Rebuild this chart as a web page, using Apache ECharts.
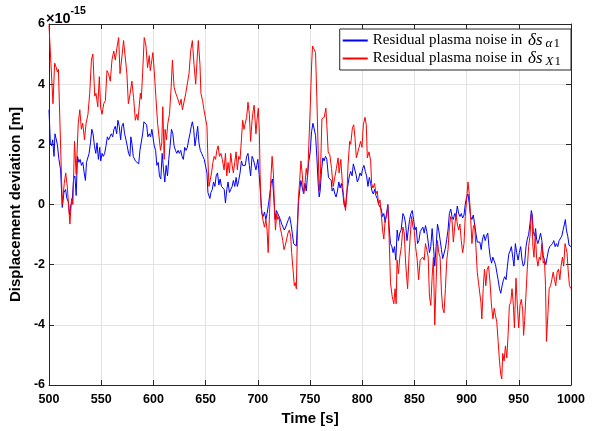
<!DOCTYPE html>
<html>
<head>
<meta charset="utf-8">
<script src="https://cdn.jsdelivr.net/npm/echarts@6/dist/echarts.min.js"></script>
<style>
html,body{margin:0;padding:0;background:#fff;}
#chart{width:597px;height:431px;}
</style>
</head>
<body>
<div id="chart"></div>
<script>
// Values in units of 1e-15 m, [time (s), displacement deviation]
const bluePoints = [
[500,3.15],[501.3,2.05],[502.5,1.95],[503.5,2.15],[504.8,1.6],[505.7,2.35],[507,2.3],[508,2.0],[509.5,1.5],[511.1,1.15],
[512.7,-0.1],[514.3,0.4],[515.9,0.5],[517.1,0.2],[518.4,0.1],[519.7,-0.35],[521,0],[522.2,0.1],[523.5,0.85],[524.8,0.95],
[526,0.3],[527.3,1.6],[528.6,1.4],[529.8,1.5],[531.1,1.3],[532.4,1.4],[533.7,1.05],[534.9,0.8],[535.9,1.4],[537.1,1.35],
[538.4,1.7],[539.7,2.05],[541,2.5],[542.2,2.35],[543.5,1.95],[544.8,1.7],[546,2.05],[547.3,1.5],[548.6,1.9],[549.5,1.45],
[550.8,1.7],[552,1.6],[553.3,1.7],[554.6,1.95],[555.9,2.25],[557.1,2.15],[558.4,2.15],[559.7,2.35],[561,2.25],[562.2,2.5],
[563.5,2.6],[564.8,2.35],[566,2.8],[567.3,2.6],[568.6,2.15],[569.8,2.6],[571.1,2.7],[572.4,2.35],[573.7,2.15],[574.9,1.95],
[576.2,1.7],[577.5,1.6],[578.4,2.25],[579.5,2.0],[580.7,1.6],[582.7,1.45],[584.2,1.4],[585.9,1.35],[587.1,1.8],[588.4,1.8],
[589.7,2.35],[590.9,2.75],[592.2,2.8],[593.5,2.65],[594.7,2.25],[596,2.35],[597.3,2.25],[598.5,2.5],[599.8,2.55],[600.8,1.95],
[602.1,1.8],[603.3,1.3],[604.6,1.4],[605.8,0.95],[607.1,0.85],[608.4,1.7],[609.7,1.15],[610.9,0.75],[612.2,1.3],[613.5,0.95],
[614.7,1.5],[616,1.95],[617.3,2.5],[618.6,2.35],[619.8,1.95],[621.1,1.8],[622.4,1.7],[623.6,1.8],[624.9,1.7],[626.2,1.8],
[627.4,1.6],[628.7,1.5],[630,1.9],[631.3,1.8],[632.5,1.9],[633.8,2.15],[635,2.35],[636.3,2.6],[637.3,2.75],[638.6,2.5],
[639.8,1.95],[641.1,2.25],[642.4,2.6],[643.6,2.05],[644.9,1.8],[646.2,1.7],[647.4,1.6],[648.7,1.5],[650,1.5],[651.3,1.05],
[652.2,0.4],[653.2,0.35],[654.1,0.2],[655.1,0.4],[656.4,0.5],[657.6,0.75],[658.9,0.6],[660.1,0.95],[661.4,1.05],[662.7,0.65],
[663.9,0.85],[665.2,0.6],[666.5,0.6],[667.8,0.5],[669,0.05],[670.3,0.5],[671.5,0.75],[672.8,0.4],[674.1,0.35],[675.4,0.6],
[676.6,0.8],[677.9,0.6],[679.2,0.9],[680.4,0.6],[681.7,0.8],[683,1.05],[684.3,1.45],[685.5,1.3],[686.8,1.35],[688,1.3],
[689.3,1.6],[690.6,1.7],[691.9,1.3],[693.1,0.95],[694.5,1.6],[695.7,1.5],[696.9,1.44],[698.2,1.15],[699,1.3],[700,1.5],
[701.3,1.0],[702.6,0.35],[703.9,-0.3],[705.1,-0.4],[706.4,-0.25],[707.7,-0.5],[708.9,-0.3],[710.2,0.0],[711.5,0.35],[712.7,0.7],
[714,0.85],[715.3,0.25],[716.6,-0.5],[717.8,-0.2],[719.1,-0.25],[720.4,-0.4],[721.6,-0.5],[722.9,-0.65],[724.2,-0.6],[725.4,-0.85],
[726.7,-0.75],[728,-0.8],[729.3,-0.5],[730.5,-0.4],[731.8,-0.65],[733,-0.95],[734.3,-1.3],[735.6,-1.35],[736.9,-1.38],[738.1,-0.5],
[739.1,0.13],[740.4,0.55],[741.3,0.8],[742.6,0.55],[743.9,0.35],[745.1,0.7],[746.4,0.45],[747.7,1.0],[748.9,1.45],[750.2,1.75],
[751.5,2.42],[752.8,2.7],[754,2.65],[755.3,2.3],[756.6,1.55],[757.8,0.7],[758.8,0.25],[759.7,0.45],[761,1.1],[762.3,1.55],
[763.5,1.45],[764.8,1.6],[766.1,1.5],[767.7,0.9],[769,0.95],[770.3,0.8],[771.2,0.45],[772.5,0.55],[773.8,0.35],[775,0.25],
[776.3,0.45],[777.6,0.75],[778.8,0.55],[780.1,0.7],[781.4,0.4],[782.6,0.0],[783.9,-0.1],[785.2,0.4],[786.5,0.45],[787.7,0.95],
[789,1.1],[790.3,0.95],[791.5,1.35],[792.8,1.3],[794.1,1.0],[795.3,0.75],[796.6,0.85],[797.9,1.05],[799.2,0.95],[800.4,1.2],
[801.7,1.3],[803,1.1],[804.2,0.95],[805.5,0.6],[806.8,0.9],[808.1,0.7],[809.3,0.45],[810.6,0.35],[811.9,0.5],[813.1,0.3],
[814.4,0.2],[815.7,0],[817,0],[818.2,-0.15],[819.5,-0.4],[820.7,-0.3],[822,-0.6],[823.3,-0.3],[824.6,0],[825.8,-0.75],
[827.1,-1.3],[828.4,-1.4],[829.6,-1.6],[830.9,-1.4],[832.2,-1.85],[833.5,-0.85],[834.7,-1.2],[836,-0.95],[837.3,-0.85],[839,-0.3],
[840.3,-0.4],[841.6,-0.65],[842.9,-1.2],[844.1,-0.85],[845.4,-0.5],[846.7,-0.3],[847.9,-0.2],[849.2,-0.5],[850.5,-0.85],[851.7,-0.75],
[853,-1.3],[854.3,-1.2],[855.6,-0.9],[856.8,-0.9],[858.1,-0.75],[859.4,-0.95],[860.6,-0.7],[861.9,-0.9],[863.2,-1.25],[864.4,-1.6],
[865.7,-1.4],[867,-0.8],[868.3,-1.4],[869.5,-2.05],[870.8,-1.4],[872.1,-0.65],[873.3,-0.85],[874.6,-0.9],[875.9,-1.5],[877.1,-1.8],
[878.4,-1.75],[879.7,-1.45],[881,-1.15],[882.2,-0.85],[883.5,-0.3],[884.8,-0.15],[886,-0.4],[887.3,-0.5],[888.6,-0.3],[889.8,-0.4],
[891.1,-0.05],[892.4,-0.3],[893.6,-0.4],[894.9,-0.3],[896.2,-0.45],[897.5,-0.35],[898.7,0.0],[900,0.25],[901.3,0.35],[902.5,0.05],
[903.8,-0.4],[905.1,-0.5],[906.4,-0.35],[907.6,-0.4],[908.9,-0.95],[910.2,-1.25],[911.4,-1.3],[912.7,-1.25],[914,-1.5],[915.2,-1.15],
[916.5,-1.0],[917.8,-1.2],[919,-1.05],[920.3,-0.95],[921.4,-1.4],[922.6,-1.75],[923.9,-1.95],[925.1,-1.75],[926.4,-1.8],[927.7,-2.0],
[928.9,-2.25],[930.2,-2.5],[931.5,-2.8],[932.7,-2.95],[934,-2.7],[935.3,-2.5],[936.5,-2.4],[937.8,-2.5],[939.1,-2.05],[940.4,-1.65],
[941.6,-1.55],[942.9,-1.4],[944.2,-1.75],[945.4,-2.05],[946.7,-1.3],[948,-1.6],[949.3,-1.85],[950.5,-1.6],[951.8,-1.4],[953.1,-1.85],
[954.3,-2.05],[955.6,-1.95],[956.9,-1.4],[958.1,-1.15],[959.4,-1.0],[960.7,-0.65],[962,-0.2],[962.9,-0.35],[963.9,-0.9],[965.1,-1.05],
[966.1,-0.8],[967,-1.15],[968.3,-1.3],[969.6,-1.15],[970.8,-0.95],[972.1,-1.2],[973.4,-1.7],[974.6,-1.85],[975.9,-2.0],[977.2,-1.75],
[978.5,-1.5],[979.7,-1.4],[981,-1.35],[982.3,-1.3],[983.5,-1.2],[984.8,-1.4],[986.1,-1.3],[987.3,-1.4],[988.6,-1.2],[989.9,-1.25],
[991.2,-1.05],[992.4,-0.85],[993.7,-0.65],[994.6,-0.5],[995.6,-0.85],[996.9,-1.05],[998.1,-1.35],[1000,-1.4]
];

const redPoints = [
[500,5.95],[503.8,3.35],[505.4,4.7],[507,4.55],[508,4.4],[509,4.5],[512.7,0],[514.6,0.7],[516,1.05],[517.5,0.6],
[520,-0.65],[521.6,0.2],[522.9,0],[524.4,2.1],[526,1.0],[528,2.7],[529.5,3.15],[531,2.5],[532.3,2.7],[534,2.15],
[535.5,2.7],[537.3,3.0],[539,3.7],[540.6,4.8],[542,5.0],[543.8,3.6],[545,3.7],[546.7,3.25],[548.2,4.25],[549.5,3.2],
[550.8,3.0],[552.4,3.35],[554,3.45],[555.5,4.45],[557,4.35],[558.7,4.1],[560.3,4.8],[562,5.1],[563.5,4.8],[565,5.2],
[566.7,5.55],[568,4.35],[569.8,4.9],[571.4,5.45],[573,4.9],[574.6,4.35],[576,3.35],[577.8,3.7],[579.4,4.1],[581,3.55],
[582.7,2.8],[584,3.0],[585.2,2.8],[587.5,3.7],[588.4,3.5],[589.7,4.4],[591.2,5.55],[592.8,5.3],[594.4,4.55],[596,4.95],
[597,4.45],[598.5,4.8],[599.5,5.05],[600.8,4.45],[602.4,3.55],[604,2.7],[605.5,2.7],[606.8,1.8],[608,2.05],[609,3.25],
[610.3,1.5],[611.2,2.5],[612.5,2.15],[613.8,2.7],[615.4,3.0],[617,3.9],[618.2,4.8],[619.8,3.9],[621.4,3.7],[623,3.55],
[624,3.6],[625.2,3.3],[626.5,3.5],[627.8,3.15],[629.3,3.1],[631,3.7],[632.5,3.7],[634.1,4.35],[635.7,5.1],[637.3,5.45],
[638.9,4.65],[640.5,4.0],[642,4.9],[643,5.45],[644.6,4.65],[645.5,3.7],[647.1,3.45],[648.4,3.15],[650,3.1],[651.3,2.6],
[652.2,1.5],[653.2,0.6],[654.4,0.6],[655.7,1.05],[657,1.4],[658.2,1.6],[659.5,1.5],[660.8,1.8],[662,1.95],[663.3,1.6],
[664.6,1.7],[666,1.5],[667.7,1.15],[669,1.7],[670.3,0.95],[671.5,1.4],[672.8,1.05],[674.1,1.7],[675.4,1.3],[676.6,1.05],
[677.9,1.4],[679.2,1.75],[680.4,1.15],[681.7,1.6],[683,1.5],[684.3,2.15],[685.5,2.8],[686.8,2.5],[688,2.7],[689.3,2.9],
[690.6,3.4],[691.9,3.0],[693.1,2.1],[694.5,2.8],[695.7,3.15],[696.5,3.3],[698.2,2.35],[699.5,2.9],[700.5,3.2],[701.5,2.4],
[702.2,1.0],[703.2,-0.1],[704.8,-0.5],[706.4,-0.75],[707.7,-0.5],[708.9,-0.85],[709.9,-1.6],[711.2,-0.3],[712.7,1.0],[713.7,1.6],
[715,1.0],[715.9,-0.1],[716.9,-0.85],[718.1,-0.3],[719.1,-0.5],[720.4,-0.4],[721.3,-0.75],[722.6,-0.95],[723.9,-1.2],[725.1,-1.5],
[726.4,-1.35],[727.7,-1.4],[728.9,-0.95],[730.2,-0.85],[731.5,-1.05],[732.4,-1.6],[733.7,-2.15],[735,-2.7],[735.9,-2.6],[736.9,-2.8],
[737.8,-1.2],[738.8,0.15],[740.1,0.8],[741.3,1.45],[742.6,1.0],[743.9,0.35],[745.1,0.65],[746.4,1.2],[747.7,0.9],[748.9,2.0],
[750.2,3.2],[751.5,4.6],[752.4,5.27],[754,5.15],[755.3,5.05],[756.5,3.6],[757.8,1.8],[758.8,0.45],[760,1.0],[761.4,2.85],
[763.6,2.9],[765.2,3.2],[766.1,2.65],[767.4,1.75],[769,1.65],[770.6,1.2],[772.2,0.6],[773.8,0.6],[775.3,1.2],[776.9,1.55],
[777.9,1.05],[779.5,1.5],[781,0.7],[782.6,0.15],[784,-0.2],[785.2,0.25],[786.5,1.35],[788,2.1],[789,2.0],[790.6,2.55],
[791.9,2.65],[793.1,2.2],[794.4,1.55],[795.7,1.55],[797,1.9],[798.5,2.1],[799.8,1.9],[801.1,2.65],[802.7,2.9],[803.9,2.65],
[804.9,1.55],[806.5,1.75],[808.1,1.45],[809,0.7],[810.3,0.55],[811.9,0.7],[813.1,0.35],[814.4,0.45],[815.7,0],[817,0.15],
[818.2,-0.3],[819.5,-0.85],[820.7,-1.15],[822,-0.5],[823.3,-0.4],[824.6,-0.05],[825.8,-1.1],[827.1,-2.6],[828.7,-3.05],[830.3,-3.3],
[831.5,-2.8],[832.5,-3.3],[833.4,-1.85],[834.7,-2.3],[836,-1.75],[837.5,-1.4],[839,-0.75],[840.3,-0.95],[841.6,-1.95],[843.5,-2.8],
[844.8,-1.75],[846,-1.05],[847.3,-0.4],[848.6,-0.75],[849.8,-0.85],[851.1,-1.4],[852.7,-1.85],[854,-2.5],[855.5,-1.85],[856.8,-1.85],
[858.1,-1.75],[859.4,-1.85],[860.6,-1.3],[861.9,-1.5],[863.2,-1.75],[864.4,-3.05],[865.7,-3.35],[867,-2.4],[868.2,-1.75],[869.5,-4.0],
[870.8,-2.6],[872.1,-1.2],[873.3,-1.6],[874.6,-1.75],[875.9,-2.9],[877.1,-3.45],[878.4,-3.6],[879.7,-2.8],[881,-1.85],[882.2,-1.5],
[883.5,-0.75],[884.8,-0.4],[886,-0.5],[887.3,-1.25],[888.6,-0.75],[889.8,-0.3],[891.1,-0.65],[892.4,-0.85],[893.6,-0.65],[894.9,-1.2],
[896.2,-1.6],[897.5,-1.3],[898.7,-0.4],[900,0.15],[901.3,0.75],[902.5,0.35],[903.8,-0.4],[905.1,-1.3],[906.4,-0.75],[907.6,-0.65],
[908.9,-1.4],[910.2,-2.25],[911.4,-2.6],[912.7,-2.6],[913.7,-3.25],[914.6,-3.8],[915.9,-2.8],[917.1,-2.15],[918.4,-2.7],[919.7,-2.15],
[921,-2.05],[922.5,-2.6],[923.7,-3.3],[925.2,-3.8],[926.4,-3.45],[927.7,-3.7],[928.9,-3.9],[930.2,-4.55],[931.5,-5.2],[932.7,-5.65],
[933.7,-5.8],[934.6,-4.95],[935.9,-5.2],[937.2,-4.7],[938.5,-5.1],[939.7,-4.35],[941,-3.35],[942.3,-3.25],[943.5,-2.8],[944.8,-3.35],
[945.8,-4.1],[947.3,-2.45],[948.6,-3.35],[949.9,-4.1],[951.2,-3.35],[952.4,-3.15],[953.7,-3.5],[954.6,-4.35],[955.6,-3.85],[956.9,-3.9],
[958.1,-2.15],[959.4,-1.4],[960.7,-1.05],[962,-0.3],[962.6,-0.4],[963.5,-1.4],[964.5,-1.75],[965.8,-0.95],[967,-1.75],[968.3,-2.05],
[969.6,-1.75],[970.8,-1.85],[972.1,-1.3],[973.4,-1.95],[974.6,-1.85],[975.6,-2.7],[976.5,-4.55],[977.8,-3.7],[979.1,-2.8],[980.4,-2.7],
[981.6,-2.5],[982.9,-2.25],[984.2,-2.5],[985.4,-2.7],[986.7,-2.25],[988,-2.15],[989.3,-2.5],[990.5,-2.05],[991.8,-1.75],[993,-2.05],
[994.3,-1.3],[995.3,-1.3],[996.2,-1.6],[997.2,-2.15],[998.5,-2.7],[1000,-2.8]
];

const seriesNames = ['Residual plasma noise in δs_α1', 'Residual plasma noise in δs_X1'];
const legendRich = [
  '{t|Residual plasma noise in }{m|δs}{s|α}{n|1}',
  '{t|Residual plasma noise in }{m|δs}{s|X}{n|1}'
];
const xRange = [500, 1000, 50];
const yRange = [-6, 6, 2];
const xTitle = 'Time [s]';
const yTitle = 'Displacement deviation [m]';

const axisColor = '#262626';
const gridColor = '#e3e3e3';
const sansBold = { fontFamily: 'Liberation Sans, Arial, sans-serif', fontWeight: 'bold', color: '#000' };

const chart = echarts.init(document.getElementById('chart'), null, { renderer: 'canvas' });

function mainX(pos, showLabels) {
  return {
    type: 'value', position: pos, min: xRange[0], max: xRange[1], interval: xRange[2],
    axisLine: { show: true, onZero: false, lineStyle: { color: axisColor, width: 1 } },
    axisTick: { show: true, inside: true, length: 5, lineStyle: { color: axisColor } },
    axisLabel: Object.assign({ show: showLabels, fontSize: 12.5, margin: 8, formatter: function (v) { return String(v); } }, sansBold),
    splitLine: { show: showLabels, lineStyle: { color: gridColor, width: 1 } }
  };
}
function mainY(pos, showLabels) {
  return {
    type: 'value', position: pos, min: yRange[0], max: yRange[1], interval: yRange[2],
    axisLine: { show: true, onZero: false, lineStyle: { color: axisColor, width: 1 } },
    axisTick: { show: true, inside: true, length: 5, lineStyle: { color: axisColor } },
    axisLabel: Object.assign({ show: showLabels, fontSize: 12.5, margin: 4, formatter: function (v) { return String(v); } }, sansBold),
    splitLine: { show: showLabels, lineStyle: { color: gridColor, width: 1 } }
  };
}

const xMain = mainX('bottom', true);
xMain.name = xTitle;
xMain.nameLocation = 'middle';
xMain.nameGap = 26;
xMain.nameTextStyle = Object.assign({ fontSize: 15 }, sansBold);
const yMain = mainY('left', true);
yMain.name = yTitle;
yMain.nameLocation = 'middle';
yMain.nameGap = 12;
yMain.nameTextStyle = Object.assign({ fontSize: 15 }, sansBold);

const serif = 'Liberation Serif, Times New Roman, serif';

chart.setOption({
  animation: false,
  backgroundColor: '#fff',
  title: {
    text: '{a|×10}{b|-15}',
    left: 46, top: 6, padding: 0,
    textStyle: {
      rich: {
        a: { fontSize: 14.5, fontWeight: 'bold', fontFamily: 'Liberation Sans, Arial, sans-serif', color: '#000', lineHeight: 20, verticalAlign: 'bottom' },
        b: { fontSize: 10.5, fontWeight: 'bold', fontFamily: 'Liberation Sans, Arial, sans-serif', color: '#000', lineHeight: 10, verticalAlign: 'top' }
      }
    }
  },
  grid: { left: 46, right: 26, top: 24, bottom: 40, containLabel: false },
  legend: {
    data: seriesNames,
    orient: 'vertical',
    right: 26, top: 29,
    backgroundColor: '#fff',
    borderColor: '#262626', borderWidth: 1, borderRadius: 0,
    padding: [3, 10, 2, 3],
    itemGap: 0,
    icon: 'rect',
    itemWidth: 25, itemHeight: 2,
    formatter: function (name) { return legendRich[seriesNames.indexOf(name)]; },
    textStyle: {
      rich: {
        t: { fontFamily: serif, fontSize: 15, color: '#000', lineHeight: 19 },
        m: { fontFamily: serif, fontSize: 17, fontStyle: 'italic', color: '#000', lineHeight: 19, padding: [0, 1, 0, 2] },
        s: { fontFamily: serif, fontSize: 13, fontStyle: 'italic', color: '#000', lineHeight: 13, verticalAlign: 'bottom', padding: [0, 1, 0, 2] },
        n: { fontFamily: serif, fontSize: 13, color: '#000', lineHeight: 13, verticalAlign: 'bottom' }
      }
    }
  },
  xAxis: [xMain, mainX('top', false)],
  yAxis: [yMain, mainY('right', false)],
  series: [
    {
      name: seriesNames[0], type: 'line', data: bluePoints, xAxisIndex: 0, yAxisIndex: 0,
      showSymbol: false, symbol: 'none', clip: true,
      lineStyle: { color: '#0000ff', width: 1 }, itemStyle: { color: '#0000ff' }
    },
    {
      name: seriesNames[1], type: 'line', data: redPoints, xAxisIndex: 0, yAxisIndex: 0,
      showSymbol: false, symbol: 'none', clip: true,
      lineStyle: { color: '#ff0000', width: 1 }, itemStyle: { color: '#ff0000' }
    }
  ]
});
</script>
</body>
</html>
